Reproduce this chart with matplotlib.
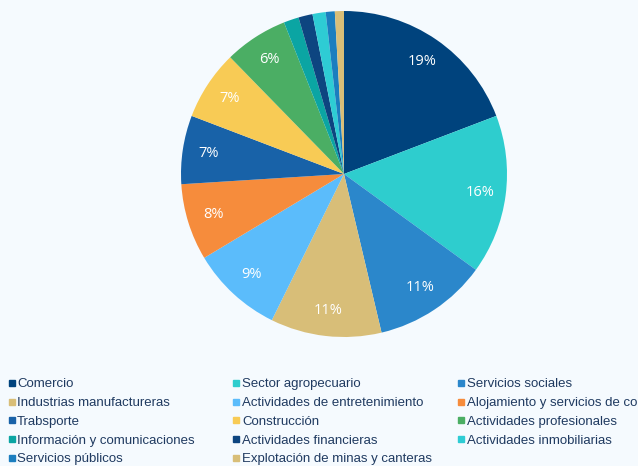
import matplotlib
matplotlib.use('Agg')
import matplotlib.pyplot as plt
from matplotlib.lines import Line2D

sectores = ['Comercio', 'Sector agropecuario', 'Servicios sociales',
            'Industrias manufactureras', 'Actividades de entretenimiento',
            'Alojamiento y servicios de comida', 'Trabsporte', 'Construcción',
            'Actividades profesionales', 'Información y comunicaciones',
            'Actividades financieras', 'Actividades inmobiliarias',
            'Servicios públicos', 'Explotación de minas y canteras']
participacion = [19.2, 15.8, 11.3, 11.0, 9.1, 7.6, 6.8, 6.9, 6.3, 1.5, 1.4, 1.3, 0.9, 0.9]
colores = ['#00437D', '#2ECDCE', '#2B87CB', '#D8BE78', '#5BBCFB', '#F68C3C', '#1862A8',
           '#F8CB55', '#4BAE64', '#0BA5A3', '#0D4580', '#2ECCD4', '#1B7EBF', '#D8BE78']

fondo = '#F5FAFE'
texto = '#1F3A60'

fig = plt.figure(figsize=(6.38, 4.66), dpi=100)
fig.patch.set_facecolor(fondo)

ax = fig.add_axes([181 / 638, 129 / 466, 326 / 638, 326 / 466])
ax.set_facecolor(fondo)


def etiqueta(p):
    return '%.0f%%' % p if p >= 5 else ''


ax.pie(participacion, colors=colores, startangle=90, counterclock=False,
       autopct=etiqueta, pctdistance=0.84,
       textprops={'color': 'white', 'fontsize': 10.5, 'family': 'Open Sans'})
ax.set_aspect('equal')
ax.set_xlim(-1, 1)
ax.set_ylim(-1, 1)

# leyenda en tres columnas, llenadas por filas
columnas_x = [0.0124, 0.3648, 0.717]
for c in range(3):
    idx = list(range(c, len(sectores), 3))
    handles = [Line2D([], [], marker='s', linestyle='', color=colores[i], markersize=5)
               for i in idx]
    leg = fig.legend(handles, [sectores[i] for i in idx], loc='upper left',
                     bbox_to_anchor=(columnas_x[c], 0.1884), frameon=False,
                     prop={'family': 'Liberation Sans', 'size': 9.5},
                     handlelength=0.55, handletextpad=0.15, labelspacing=0.49,
                     borderaxespad=0, borderpad=0)
    for t in leg.get_texts():
        t.set_color(texto)

fig.savefig('out.png', dpi=100, facecolor=fondo)
